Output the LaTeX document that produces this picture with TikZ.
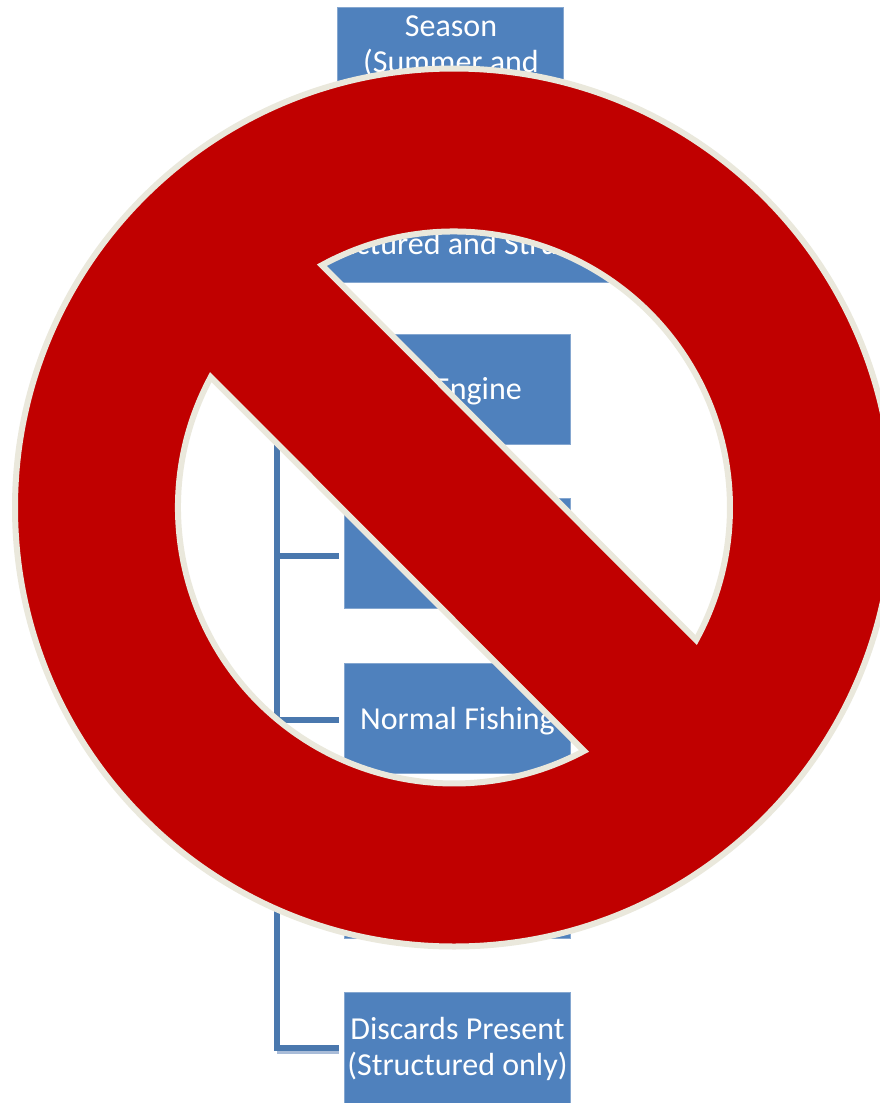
\documentclass[tikz,border=0pt]{standalone}
\usepackage{fontspec}
\setmainfont{Carlito}
\definecolor{boxblue}{HTML}{4F81BD}
\definecolor{boxedge}{HTML}{85A7D0}
\definecolor{linkblue}{HTML}{4A78AE}
\definecolor{linkshade}{HTML}{A9BCD8}
\definecolor{signred}{HTML}{C00000}
\definecolor{signedge}{HTML}{EAE8DC}
\tikzset{
  px/.style={x=1pt,y=-1pt},
  bluebox/.style={draw=boxedge,line width=0.6pt,fill=boxblue,minimum width=226.4pt,minimum height=110pt,inner sep=0pt},
  boxtext/.style={text=white,inner sep=0pt,align=center,font=\fontsize{32}{36}\selectfont},
  link/.style={draw=linkblue,line width=6pt},
  linkshadow/.style={draw=linkshade,line width=3pt},
  sign/.style={fill=signred,draw=signedge,line width=6pt,even odd rule,line join=miter}
}
\begin{document}
\begin{tikzpicture}[px]
\useasboundingbox (0,0) rectangle (880,1103);
\clip (0,0) rectangle (880,1103);
\fill[white] (0,0) rectangle (880,1103);
% boxes
\node[bluebox,anchor=north west] (season) at (337,7) {};
\node[boxtext,anchor=base] (seasonA) at (451,36) {Season};
\node[boxtext,anchor=base] (seasonB) at (451,72) {(Summer and};
\node[bluebox,anchor=south,minimum width=400pt] (trip) at (451,283) {};
\node[boxtext,anchor=base] (tripT) at (455,254) {Unstructured and Structured};
\node[bluebox,anchor=north west] (engine) at (344,334) {};
\node[boxtext,anchor=base east] (engineT) at (522,399) {Engine};
\node[bluebox,anchor=north west] (boxb) at (344,498) {};
\node[bluebox,anchor=north west] (fishing) at (344,663) {};
\node[boxtext] (fishingT) at ([yshift=-2.5pt]fishing.center) {Normal Fishing};
\node[bluebox,anchor=north west] (boxd) at (344,828) {};
\node[bluebox,anchor=north west,minimum height=111pt] (discards) at (344,992) {};
\node[boxtext] (discardsT) at ([yshift=-1.5pt]discards.center) {Discards Present\\(Structured only)};
% connectors
\coordinate (trunktop) at (277,283);
\draw[linkshadow,shorten >=5pt] ([yshift=-4.5pt]discards.west -| trunktop) -- ([yshift=-4.5pt]discards.west);
\draw[link,shorten >=5pt] (trunktop) |- ([yshift=-0.5pt]discards.west);
\draw[link,shorten >=5pt] (engine.west -| trunktop) -- (engine.west);
\draw[link,shorten >=5pt] ([yshift=-3pt]boxb.west -| trunktop) -- ([yshift=-3pt]boxb.west);
\draw[link,shorten >=5pt] ([yshift=-2pt]fishing.west -| trunktop) -- ([yshift=-2pt]fishing.west);
\draw[link,shorten >=5pt] (boxd.west -| trunktop) -- (boxd.west);
% prohibition sign
\coordinate (c) at (454,507.5);
\path[sign] (c) circle[radius=439]
  (c) ++ ({276*cos(118.6)},{-276*sin(118.6)}) arc[start angle=-118.6,end angle=28.7,radius=276] -- cycle
  (c) ++ ({276*cos(151.8)},{-276*sin(151.8)}) arc[start angle=-151.8,end angle=-298.1,radius=276] -- cycle;
\end{tikzpicture}
\end{document}
